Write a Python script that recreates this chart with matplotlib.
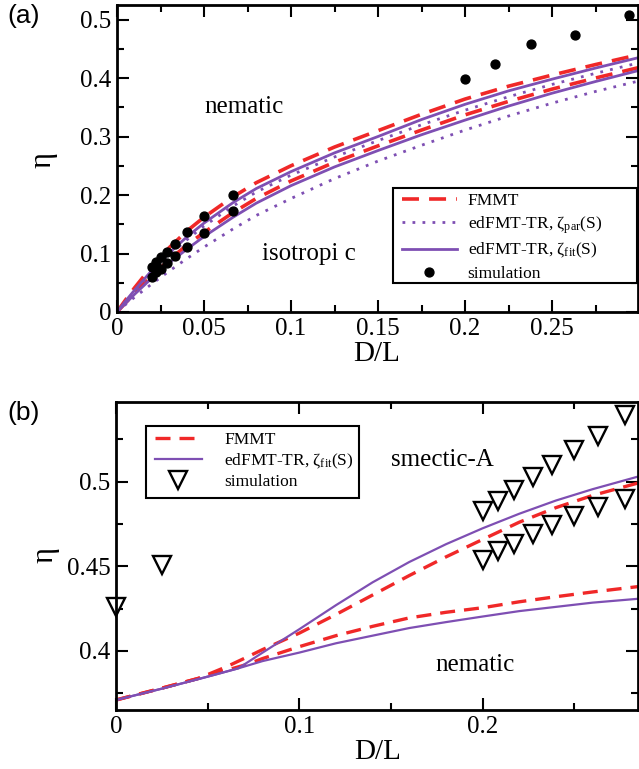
import matplotlib
matplotlib.use("Agg")
import matplotlib.pyplot as plt
from matplotlib.lines import Line2D
from matplotlib.patches import Rectangle
from matplotlib.ticker import MultipleLocator, FuncFormatter

plt.rcParams['font.family'] = ['Liberation Serif', 'DejaVu Serif']
plt.rcParams['mathtext.fontset'] = 'custom'
plt.rcParams['mathtext.rm'] = 'Liberation Serif'
plt.rcParams['mathtext.it'] = 'Liberation Serif'
plt.rcParams['mathtext.bf'] = 'Liberation Serif:bold'

# ---------------- panel (a) data ----------------
x_a = [0, 0.005, 0.01, 0.02, 0.03, 0.04, 0.05, 0.0667, 0.08, 0.1, 0.125,
       0.15, 0.175, 0.2, 0.225, 0.25, 0.275, 0.3]
fmmt_N = [0, 0.021, 0.041, 0.078, 0.110, 0.138, 0.162, 0.197, 0.221, 0.250,
          0.282, 0.310, 0.338, 0.364, 0.386, 0.405, 0.423, 0.440]
fmmt_I = [0, 0.016, 0.032, 0.062, 0.089, 0.114, 0.136, 0.170, 0.194, 0.224,
          0.256, 0.284, 0.311, 0.337, 0.360, 0.381, 0.400, 0.418]
par_N = [0, 0.018, 0.035, 0.068, 0.097, 0.123, 0.147, 0.181, 0.205, 0.234,
         0.265, 0.293, 0.320, 0.345, 0.368, 0.389, 0.408, 0.426]
par_I = [0, 0.013, 0.025, 0.048, 0.070, 0.091, 0.111, 0.142, 0.165, 0.194,
         0.228, 0.258, 0.285, 0.311, 0.335, 0.357, 0.377, 0.395]
fit_N = [0, 0.019, 0.037, 0.071, 0.101, 0.128, 0.152, 0.187, 0.211, 0.240,
         0.272, 0.300, 0.329, 0.355, 0.378, 0.398, 0.417, 0.435]
fit_I = [0, 0.015, 0.030, 0.058, 0.084, 0.107, 0.129, 0.162, 0.186, 0.216,
         0.248, 0.276, 0.303, 0.328, 0.352, 0.374, 0.394, 0.413]

sim_x = [0.02, 0.0222, 0.025, 0.0286, 0.0333, 0.04, 0.05, 0.0667]
sim_N = [0.077, 0.085, 0.094, 0.103, 0.117, 0.136, 0.164, 0.200]
sim_I = [0.060, 0.068, 0.073, 0.084, 0.095, 0.111, 0.135, 0.172]
sim_hi_x = [0.2, 0.2174, 0.2381, 0.2632, 0.2941]
sim_hi = [0.398, 0.424, 0.458, 0.474, 0.508]

# ---------------- panel (b) data ----------------
xb_fit = [0, 0.025, 0.05, 0.0667, 0.08, 0.1, 0.12, 0.14, 0.16, 0.18, 0.2,
          0.22, 0.24, 0.26, 0.285]
fit_up = [0.371, 0.3777, 0.3848, 0.3897, 0.399, 0.4128, 0.4270, 0.4405,
          0.4525, 0.4630, 0.4724, 0.4810, 0.4888, 0.4955, 0.503]
fit_lo = [0.371, 0.3777, 0.3848, 0.3897, 0.394, 0.399, 0.4045, 0.409,
          0.4135, 0.417, 0.4203, 0.4235, 0.426, 0.4285, 0.4308]
xb_fmmt = [0, 0.025, 0.045, 0.06, 0.0714, 0.08, 0.1, 0.12, 0.14, 0.16, 0.18,
           0.2, 0.22, 0.24, 0.26, 0.285]
fmmt_up = [0.371, 0.378, 0.3838, 0.3905, 0.3963, 0.4008, 0.4105, 0.4215,
           0.433, 0.4445, 0.4555, 0.4658, 0.4760, 0.4846, 0.4918, 0.4992]
fmmt_lo = [0.371, 0.378, 0.3838, 0.3885, 0.392, 0.3955, 0.4025, 0.409,
           0.4145, 0.4195, 0.4228, 0.4255, 0.429, 0.432, 0.4348, 0.438]

tri_x = [0.2, 0.2083, 0.2174, 0.2273, 0.2381, 0.25, 0.2632, 0.2778]
tri_sm = [0.4824, 0.4883, 0.4953, 0.5028, 0.5095, 0.5185, 0.5272, 0.5391]
tri_n = [0.4538, 0.4588, 0.4633, 0.4692, 0.4746, 0.4799, 0.4850, 0.4898]
tri_left_x = [0, 0.025]
tri_left = [0.4262, 0.4509]

RED = '#f02828'
PURPLE = '#7e4fb3'

W, H = 639, 769
fig = plt.figure(figsize=(W / 100, H / 100), dpi=100)


def ax_rect(l, t, r, b):
    return [l / W, 1 - b / H, (r - l) / W, (b - t) / H]


def fmt(v, pos):
    return '%g' % round(v, 4)


def style(ax):
    for s in ax.spines.values():
        s.set_linewidth(2.0)
    ax.tick_params(which='both', direction='in', top=True, right=True,
                   width=1.5, labelsize=18)
    ax.tick_params(which='major', length=8.5, pad=4)
    ax.tick_params(which='minor', length=5)
    ax.xaxis.set_major_formatter(FuncFormatter(fmt))
    ax.yaxis.set_major_formatter(FuncFormatter(fmt))


def frame(ax, l, t, r, b):
    ax.add_patch(Rectangle((l / W, 1 - b / H), (r - l) / W, (b - t) / H,
                           transform=fig.transFigure, facecolor='white',
                           edgecolor='black', lw=1.5, zorder=4,
                           clip_on=False))


# ---------------- panel (a) ----------------
ax1 = fig.add_axes(ax_rect(117, 5, 638, 312))
dash_a = (0, (4.7, 2.8))
dot_a = (0, (1, 2.6))
ax1.plot(x_a, fmmt_N, color=RED, lw=2.6, linestyle=dash_a)
ax1.plot(x_a, fmmt_I, color=RED, lw=2.6, linestyle=dash_a)
ax1.plot(x_a, par_N, color=PURPLE, lw=2.0, linestyle=dot_a)
ax1.plot(x_a, par_I, color=PURPLE, lw=2.0, linestyle=dot_a)
ax1.plot(x_a, fit_N, color=PURPLE, lw=2.0)
ax1.plot(x_a, fit_I, color=PURPLE, lw=2.0)
ax1.plot(sim_x, sim_N, 'o', color='black', ms=6.4, clip_on=False)
ax1.plot(sim_x, sim_I, 'o', color='black', ms=6.4, clip_on=False)
ax1.plot(sim_hi_x, sim_hi, 'o', color='black', ms=6.4, clip_on=False)
ax1.set_xlim(0, 0.2994)
ax1.set_ylim(0, 0.5248)
ax1.xaxis.set_major_locator(MultipleLocator(0.05))
ax1.xaxis.set_minor_locator(MultipleLocator(0.025))
ax1.yaxis.set_major_locator(MultipleLocator(0.1))
ax1.yaxis.set_minor_locator(MultipleLocator(0.05))
style(ax1)
ax1.text(0.073, 0.350, 'nematic', fontsize=18, ha='center', va='center')
ax1.text(0.110, 0.100, 'isotropi c', fontsize=18, ha='center', va='center')

frame(ax1, 393, 188, 637, 283)
h_a = [Line2D([], [], color=RED, lw=2.6, linestyle=dash_a),
       Line2D([], [], color=PURPLE, lw=2.0, linestyle=dot_a),
       Line2D([], [], color=PURPLE, lw=2.0),
       Line2D([], [], color='black', marker='o', ms=6.4, linestyle='none')]
l_a = ['FMMT', r'edFMT-TR, $\zeta_{\rm par}$(S)',
       r'edFMT-TR, $\zeta_{\rm fit}$(S)', 'simulation']
leg1 = ax1.legend(h_a, l_a, loc='upper left',
                  bbox_to_anchor=(402 / W, 1 - 193 / H),
                  bbox_transform=fig.transFigure, fontsize=12.5,
                  frameon=False, handlelength=3.15, handletextpad=0.63,
                  borderpad=0, labelspacing=0.3, borderaxespad=0,
                  numpoints=1)
leg1.set_zorder(6)

# ---------------- panel (b) ----------------
ax2 = fig.add_axes(ax_rect(116, 402, 638, 710))
dash_b = (0, (4.5, 2.7))
ax2.plot(xb_fmmt, fmmt_up, color=RED, lw=2.4, linestyle=dash_b)
ax2.plot(xb_fmmt, fmmt_lo, color=RED, lw=2.4, linestyle=dash_b)
ax2.plot(xb_fit, fit_up, color=PURPLE, lw=1.6)
ax2.plot(xb_fit, fit_lo, color=PURPLE, lw=1.6)
tri_kw = dict(marker='v', ms=13, mfc='white', mec='black', mew=1.7,
              linestyle='none', clip_on=False)
ax2.plot(tri_x, tri_sm, **tri_kw)
ax2.plot(tri_x, tri_n, **tri_kw)
ax2.plot(tri_left_x, tri_left, **tri_kw)
ax2.set_xlim(0, 0.2848)
ax2.set_ylim(0.3651, 0.5470)
ax2.xaxis.set_major_locator(MultipleLocator(0.1))
ax2.xaxis.set_minor_locator(MultipleLocator(0.05))
ax2.yaxis.set_major_locator(MultipleLocator(0.05))
ax2.yaxis.set_minor_locator(MultipleLocator(0.025))
style(ax2)
ax2.text(0.178, 0.5128, 'smectic-A', fontsize=18, ha='center', va='center')
ax2.text(0.196, 0.3917, 'nematic', fontsize=18, ha='center', va='center')

frame(ax2, 146, 426, 359, 498)
h_b = [Line2D([], [], color=RED, lw=2.4, linestyle=dash_b),
       Line2D([], [], color=PURPLE, lw=1.6),
       Line2D([], [], marker='v', ms=13, mfc='white', mec='black', mew=1.7,
              linestyle='none')]
l_b = ['FMMT', r'edFMT-TR, $\zeta_{\rm fit}$(S)', 'simulation']
leg2 = ax2.legend(h_b, l_b, loc='upper left',
                  bbox_to_anchor=(155 / W, 1 - 432 / H),
                  bbox_transform=fig.transFigure, fontsize=12.5,
                  frameon=False, handlelength=2.7, handletextpad=1.3,
                  borderpad=0, labelspacing=0.2, borderaxespad=0,
                  numpoints=1)
leg2.set_zorder(6)

# ---------------- labels ----------------
fig.text(43 / W, 1 - 160 / H, 'η', fontsize=22, rotation=90,
         ha='center', va='center')
fig.text(45 / W, 1 - 555 / H, 'η', fontsize=22, rotation=90,
         ha='center', va='center')
fig.text(377 / W, 1 - 354 / H, 'D/L', fontsize=21, ha='center', va='center')
fig.text(378 / W, 1 - 752 / H, 'D/L', fontsize=21, ha='center', va='center')
fig.text(24 / W, 1 - 16 / H, '(a)', fontsize=19, family='Liberation Sans',
         ha='center', va='center')
fig.text(24 / W, 1 - 413 / H, '(b)', fontsize=19, family='Liberation Sans',
         ha='center', va='center')

fig.savefig('out.png', dpi=100)
